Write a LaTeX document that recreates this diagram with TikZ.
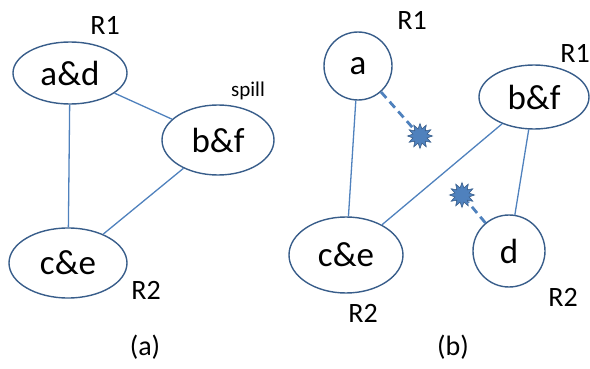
\documentclass[tikz,border=0pt]{standalone}
\usepackage{fontspec}
\setmainfont{Carlito}
\usetikzlibrary{shapes.geometric,shapes.symbols}
\definecolor{edge}{HTML}{4F81BD}
\definecolor{outl}{HTML}{385D8A}
\tikzset{
  x=1pt,y=-1pt,
  ell/.style={draw=outl,line width=1.4pt,ellipse,inner sep=0pt,font=\fontsize{35}{35}\selectfont},
  circ/.style={draw=outl,line width=1.4pt,circle,inner sep=0pt,font=\fontsize{35}{35}\selectfont},
  lab/.style={font=\fontsize{28}{28}\selectfont,inner sep=0pt},
  link/.style={draw=edge,line width=1.3pt},
  spilled/.style={draw=edge,line width=2.8pt,dash pattern=on 8pt off 5pt},
  burst/.style={star,star points=12,star point ratio=1.7,fill=edge,draw=outl,line width=0.6pt,minimum width=25pt,minimum height=19pt,inner sep=0pt}
}
\begin{document}
\begin{tikzpicture}
\useasboundingbox (0,0) rectangle (590,369);
% (a)
\node[ell,minimum width=114pt,minimum height=62pt] (ad) at (70,73) {a\&d};
\node[ell,minimum width=112pt,minimum height=70pt] (bf) at (218,140) {b\&f};
\node[ell,minimum width=118pt,minimum height=70pt] (ce) at (68,263) {c\&e};
\node[lab] (r1a) at (105,25) {R1};
\node[lab,font=\fontsize{21}{21}\selectfont] (sp) at (248,91) {spill};
\node[lab] (r2a) at (146,290) {R2};
\node[lab] (capa) at (145,347) {(a)};
\draw[link] (ad) -- (ce);
\draw[link] (ad) -- (bf);
\draw[link] (bf) -- (ce);
% (b)
\node[circ,minimum size=68pt] (a) at (358,66) {a};
\node[ell,minimum width=110pt,minimum height=64pt] (bf2) at (534,97) {b\&f};
\node[ell,minimum width=114pt,minimum height=76pt] (ce2) at (346,255) {c\&e};
\node[circ,minimum size=72pt] (d) at (509,251) {d};
\node[lab] (r1b) at (412,20) {R1};
\node[lab] (r1c) at (575,53) {R1};
\node[lab] (r2b) at (363,313) {R2};
\node[lab] (r2c) at (563,297) {R2};
\node[lab] (capb) at (453,347) {(b)};
\node[burst] (s1) at (420,136) {};
\node[burst] (s2) at (462,195) {};
\draw[link] (a) -- (ce2);
\draw[link] (bf2) -- (ce2);
\draw[link] (bf2) -- (d);
\draw[spilled] (a) -- (s1);
\draw[spilled] (d) -- (s2);
\end{tikzpicture}
\end{document}
